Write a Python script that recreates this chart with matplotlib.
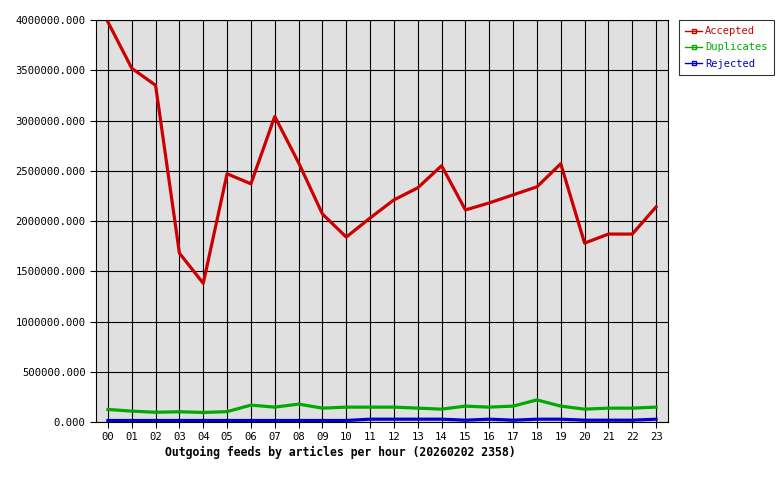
import matplotlib

matplotlib.use("Agg")
import matplotlib.pyplot as plt
from matplotlib.ticker import FuncFormatter, MultipleLocator

hours = [f"{h:02d}" for h in range(24)]
accepted = [3980000, 3520000, 3350000, 1680000, 1380000, 2470000, 2370000, 3040000,
            2580000, 2070000, 1840000, 2030000, 2210000, 2330000, 2550000, 2110000,
            2180000, 2260000, 2340000, 2570000, 1780000, 1870000, 1870000, 2140000]
duplicates = [125000, 108000, 97000, 102000, 95000, 103000, 168000, 148000,
              178000, 138000, 148000, 148000, 148000, 138000, 128000, 158000,
              148000, 158000, 220000, 158000, 128000, 138000, 138000, 148000]
rejected = [15000, 15000, 15000, 15000, 15000, 15000, 15000, 15000,
            15000, 15000, 15000, 28000, 28000, 28000, 28000, 18000,
            28000, 18000, 28000, 28000, 18000, 18000, 18000, 28000]

plt.rcParams["font.family"] = ["DejaVu Sans Mono"]

fig = plt.figure(figsize=(7.8, 4.8), dpi=100)
ax = fig.add_axes([96 / 780, 58 / 480, 572 / 780, 402 / 480])
ax.set_facecolor("#e0e0e0")

x = list(range(len(hours)))
series = [
    ("Accepted", accepted, "#cc0000"),
    ("Duplicates", duplicates, "#00aa00"),
    ("Rejected", rejected, "#0000cc"),
]
for name, values, color in series:
    ax.plot(x, values, color=color, linewidth=2.3, label=name, zorder=3)

ax.set_xlim(-0.5, 23.5)
ax.set_ylim(0, 4000000)
ax.set_xticks(x)
ax.set_xticklabels(hours)
ax.yaxis.set_major_locator(MultipleLocator(500000))
ax.yaxis.set_major_formatter(FuncFormatter(lambda v, _: f"{v:.3f}"))
ax.grid(True, color="black", linewidth=0.8)
ax.set_axisbelow(True)
ax.tick_params(labelsize=7.6, length=4, width=0.8, color="black")
for spine in ax.spines.values():
    spine.set_linewidth(0.8)

fig.text(165 / 780, 1 - 452 / 480,
         "Outgoing feeds by articles per hour (20260202 2358)",
         fontsize=8.3, fontweight="bold", ha="left", va="center")

handles = [
    plt.Line2D([], [], color=color, linewidth=1, marker="s", markersize=3,
               markerfacecolor="none", markeredgecolor=color)
    for _, _, color in series
]
leg = fig.legend(handles, [s[0] for s in series], loc="upper left",
                 bbox_to_anchor=(679 / 780, 1 - 20 / 480), fontsize=7.5,
                 frameon=True, fancybox=False, handlelength=1.6,
                 handletextpad=0.3, borderpad=0.6, labelspacing=0.6,
                 borderaxespad=0)
leg.get_frame().set_edgecolor("black")
leg.get_frame().set_linewidth(0.8)
for text, (_, _, color) in zip(leg.get_texts(), series):
    text.set_color(color)

fig.savefig("out.png", dpi=100, facecolor="white")
